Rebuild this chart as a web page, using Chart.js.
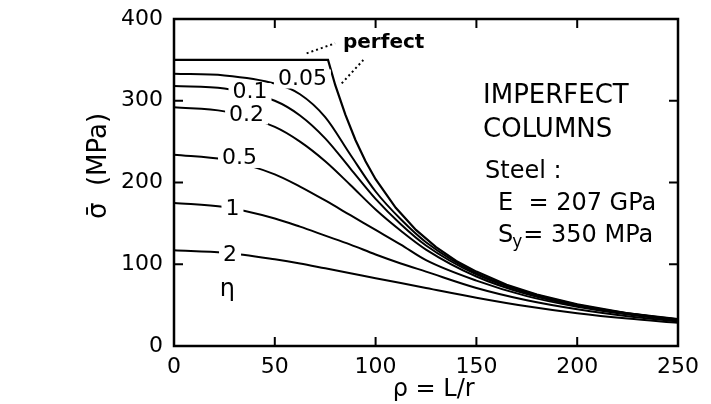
<!DOCTYPE html>
<html>
<head>
<meta charset="utf-8">
<script src="https://cdn.jsdelivr.net/npm/chart.js@4.4.1/dist/chart.umd.min.js"></script>
<style>
  html, body { margin: 0; padding: 0; background: #fff; }
  #wrap { width: 711px; height: 404px; }
</style>
</head>
<body>
<div id="wrap"><canvas id="chart"></canvas></div>
<script>
// slenderness ratio rho = L/r, stress in MPa
const rho = [0, 25, 50, 62.5, 75, 87.5, 100, 112.5, 125, 150, 175, 200, 225, 250];
const eta005 = [333, 331, 321, 308, 280, 234, 189, 155, 127, 89, 66, 50.5, 40, 32.5];
const eta01 = [318, 315, 300, 282, 254, 217, 180, 149, 123, 87.5, 65, 50, 39.8, 32.3];
const eta02 = [292, 287, 268, 250, 226, 197, 167, 141, 118, 85, 63.5, 49.2, 39.4, 32];
const eta05 = [234, 228, 210, 195, 178, 160, 142, 124, 105, 80, 61, 48, 38.5, 31.3];
const eta1 = [175, 170, 156, 146, 135, 124, 112, 101, 91, 71, 56, 45, 36.5, 30];
const eta2 = [117, 114, 106, 101, 95, 89, 83, 77, 71, 59, 48.5, 40, 33.5, 28.5];

const rhoPerfect = [0, 76.4, 80, 85, 90, 95, 100, 110, 120, 130, 140, 150, 165, 180, 200, 225, 250];
const perfect = [350, 350, 319, 283, 252, 226, 204, 169, 142, 121, 104, 91, 75, 63, 51, 40, 33];

const etaNames = ["0.05", "0.1", "0.2", "0.5", "1", "2"];
const xTicks = [0, 50, 100, 150, 200, 250];
const yTicks = [0, 100, 200, 300, 400];

const toPoints = (xs, ys) => xs.map((v, i) => ({ x: v, y: ys[i] }));

const curves = [eta005, eta01, eta02, eta05, eta1, eta2].map((vals, i) => ({
  label: "η = " + etaNames[i],
  data: toPoints(rho, vals),
  borderColor: "#000",
  borderWidth: 2,
  cubicInterpolationMode: "monotone",
  pointRadius: 0,
  fill: false,
}));

curves.unshift({
  label: "perfect",
  data: toPoints(rhoPerfect, perfect),
  borderColor: "#000",
  borderWidth: 2.2,
  tension: 0,
  pointRadius: 0,
  fill: false,
});

const FONT = "'DejaVu Sans', sans-serif";

// text, frame and inward ticks drawn over the plot
const overlay = {
  id: "overlay",
  afterDatasetsDraw(chart) {
    const { ctx, chartArea: a, scales: { x, y } } = chart;
    const px = (v) => x.getPixelForValue(v);
    const py = (v) => y.getPixelForValue(v);
    ctx.save();

    // labels sitting on the curves
    const labelAt = [[63.7, 326.6], [37.7, 310], [36, 282.6], [32.5, 229.4], [29, 167.6], [27.8, 110.7]];
    ctx.font = "22px " + FONT;
    ctx.textAlign = "center";
    ctx.textBaseline = "middle";
    etaNames.forEach((t, i) => {
      const cx = px(labelAt[i][0]), cy = py(labelAt[i][1]);
      const w = ctx.measureText(t).width + 8;
      ctx.fillStyle = "#fff";
      ctx.fillRect(cx - w / 2, cy - 9.5, w, 19);
      ctx.fillStyle = "#000";
      ctx.fillText(t, cx, cy);
    });
    ctx.textBaseline = "alphabetic";
    ctx.font = "24px " + FONT;
    ctx.fillText("η", px(26.5), py(61));

    // perfect label with dotted leaders
    ctx.textAlign = "left";
    ctx.font = "bold 20px " + FONT;
    ctx.fillText("perfect", px(83.8), py(364.5));
    ctx.setLineDash([2, 3]);
    ctx.lineWidth = 2;
    ctx.strokeStyle = "#000";
    ctx.beginPath();
    ctx.moveTo(px(65.8), py(358)); ctx.lineTo(px(79.9), py(370.3));
    ctx.moveTo(px(83.2), py(321.3)); ctx.lineTo(px(93.9), py(349.8));
    ctx.stroke();
    ctx.setLineDash([]);

    // notes
    ctx.font = "26px " + FONT;
    ctx.fillText("IMPERFECT", px(153.3), py(297.2));
    ctx.fillText("COLUMNS", px(153.3), py(255.7));
    ctx.font = "24px " + FONT;
    ctx.fillText("Steel :", px(154.3), py(205.5));
    ctx.fillText("E  = 207 GPa", px(160.7), py(166.4));
    const sx = px(160.7), sy = py(127.2);
    ctx.fillText("S", sx, sy);
    const sw = ctx.measureText("S").width;
    ctx.font = "17px " + FONT;
    ctx.fillText("y", sx + sw - 1, sy + 5);
    const yw = ctx.measureText("y").width;
    ctx.font = "24px " + FONT;
    ctx.fillText("= 350 MPa", sx + sw + yw, sy);

    // frame
    ctx.lineWidth = 2.5;
    ctx.strokeRect(a.left, a.top, a.right - a.left, a.bottom - a.top);

    // inward tick marks on all four sides
    ctx.lineWidth = 2;
    ctx.beginPath();
    xTicks.slice(1, -1).forEach((v) => {
      const p = px(v);
      ctx.moveTo(p, a.bottom); ctx.lineTo(p, a.bottom - 9);
      ctx.moveTo(p, a.top); ctx.lineTo(p, a.top + 9);
    });
    yTicks.slice(1, -1).forEach((v) => {
      const p = py(v);
      ctx.moveTo(a.left, p); ctx.lineTo(a.left + 9, p);
      ctx.moveTo(a.right, p); ctx.lineTo(a.right - 9, p);
    });
    ctx.stroke();
    ctx.restore();
  },
};

Chart.defaults.color = "#000";
Chart.defaults.font.family = FONT;

new Chart(document.getElementById("chart"), {
  type: "line",
  data: { datasets: curves },
  plugins: [overlay],
  options: {
    responsive: true,
    maintainAspectRatio: false,
    animation: false,
    layout: { padding: { left: 84, top: 19, right: 33, bottom: 0 } },
    plugins: {
      legend: { display: false },
      tooltip: { enabled: false },
    },
    scales: {
      x: {
        type: "linear",
        min: 0,
        max: 250,
        afterFit: (s) => { s.height = 58; },
        afterBuildTicks: (s) => { s.ticks = xTicks.map((v) => ({ value: v })); },
        grid: { display: false, drawTicks: false },
        border: { display: false },
        ticks: { font: { size: 22 }, padding: 8, maxRotation: 0 },
        title: {
          display: true,
          text: "  ρ = L/r",
          font: { size: 24 },
          padding: 0,
        },
      },
      y: {
        min: 0,
        max: 400,
        afterFit: (s) => { s.width = 90; s.paddingTop = 0; s.paddingBottom = 0; },
        afterBuildTicks: (s) => { s.ticks = yTicks.map((v) => ({ value: v })); },
        grid: { display: false, drawTicks: false },
        border: { display: false },
        ticks: { font: { size: 22 }, padding: 11 },
        title: {
          display: true,
          text: "    σ̄  (MPa)",
          font: { size: 26 },
          padding: 0,
        },
      },
    },
  },
});
</script>
</body>
</html>
